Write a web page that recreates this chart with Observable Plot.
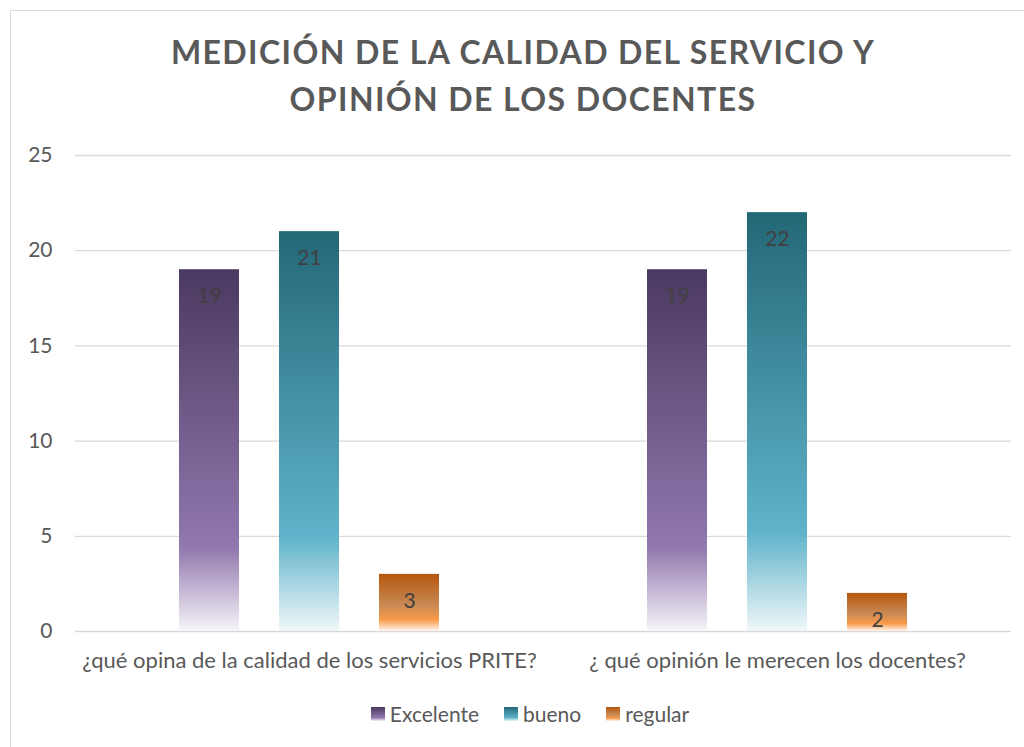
<!DOCTYPE html>
<html>
<head>
<meta charset="utf-8">
<script src="https://cdn.jsdelivr.net/npm/d3@7"></script>
<script src="https://cdn.jsdelivr.net/npm/@observablehq/plot@0.6"></script>
<style>
  html, body { margin: 0; padding: 0; background: #fff; }
  body { width: 1024px; height: 747px; position: relative; overflow: hidden; font-family: Lato, "Open Sans", sans-serif; }
  #frame { position: absolute; left: 10px; top: 10px; width: 1030px; height: 760px; border-left: 1.5px solid #d9d9d9; border-top: 1.5px solid #d9d9d9; }
  #title { position: absolute; left: 0; width: 1046px; top: 28px; text-align: center; font-weight: bold; font-size: 32px; line-height: 47px; color: #595959; letter-spacing: 1.4px; }
  #chart { position: absolute; left: 0; top: 130px; }
  #legend { position: absolute; left: 0; width: 1024px; top: 701px; display: flex; justify-content: center; gap: 25px; font-size: 21px; color: #595959; padding-left: 36px; box-sizing: border-box; }
  #legend .item { display: flex; align-items: center; gap: 5px; }
  #legend .sw { width: 14px; height: 14px; display: inline-block; }
</style>
</head>
<body>
<div id="frame"></div>
<div id="title">MEDICIÓN DE LA CALIDAD DEL SERVICIO Y<br>OPINIÓN DE LOS DOCENTES</div>
<div id="chart"></div>
<div id="legend"></div>
<script>
const questions = ["¿qué opina de la calidad de los servicios PRITE?", "¿ qué opinión le merecen los docentes?"];
const seriesNames = ["Excelente", "bueno", "regular"];
const excelente = [19, 19];
const bueno = [21, 22];
const regular = [3, 2];
const yTicks = [0, 5, 10, 15, 20, 25];

const gradients = {
  Excelente: {id: "gExc", stops: [[0, "#4a3960"], [0.77, "#9178ae"], [1, "#f6f4f8"]]},
  bueno: {id: "gBue", stops: [[0, "#236776"], [0.765, "#5fb3ca"], [1, "#f0f7f9"]]},
  regular: {id: "gReg", stops: [[0, "#b5560c"], [0.55, "#c98a55"], [0.8, "#f99a48"], [1, "#fff6ee"]]}
};

const valuesBySeries = {Excelente: excelente, bueno: bueno, regular: regular};
const data = [];
questions.forEach((q, i) => {
  seriesNames.forEach(s => data.push({q, series: s, value: valuesBySeries[s][i]}));
});

const barMarks = seriesNames.map(s => Plot.barY(data.filter(d => d.series === s), {
  fx: "q", x: "series", y: "value", fill: `url(#${gradients[s].id})`
}));

const svg = Plot.plot({
  width: 1024,
  height: 560,
  marginLeft: 75,
  marginRight: 13,
  marginTop: 25,
  marginBottom: 59,
  style: {fontFamily: "Lato, 'Open Sans', sans-serif", fontSize: "21px", color: "#595959", background: "transparent"},
  fx: {domain: questions, padding: 0, label: null},
  x: {domain: seriesNames, axis: null, paddingInner: 0.403, paddingOuter: 1.03},
  y: {domain: [0, 25], label: null},
  marks: [
    Plot.ruleY(yTicks, {stroke: "#d9d9d9", strokeWidth: 1.3}),
    Plot.axisY({ticks: yTicks, tickSize: 0, tickPadding: 23, label: null, fill: "#595959", fontSize: 21}),
    Plot.axisFx({anchor: "bottom", tickSize: 0, tickPadding: 21, label: null, fill: "#595959", fontSize: 22}),
    ...barMarks,
    Plot.text(data, {fx: "q", x: "series", y: "value", text: d => String(d.value), dy: 27, lineAnchor: "middle", fill: "#404040", fontSize: 21})
  ]
});

const defs = d3.select(svg).insert("defs", ":first-child");
Object.values(gradients).forEach(g => {
  const lg = defs.append("linearGradient").attr("id", g.id).attr("x1", 0).attr("y1", 0).attr("x2", 0).attr("y2", 1);
  g.stops.forEach(([o, c]) => lg.append("stop").attr("offset", o).attr("stop-color", c));
});
document.getElementById("chart").appendChild(svg);

const legend = document.getElementById("legend");
seriesNames.forEach(s => {
  const g = gradients[s];
  const item = document.createElement("div");
  item.className = "item";
  const sw = document.createElement("span");
  sw.className = "sw";
  sw.style.background = `linear-gradient(to bottom, ${g.stops.map(([o, c]) => `${c} ${o * 100}%`).join(", ")})`;
  const label = document.createElement("span");
  label.textContent = s;
  item.appendChild(sw);
  item.appendChild(label);
  legend.appendChild(item);
});
</script>
</body>
</html>
